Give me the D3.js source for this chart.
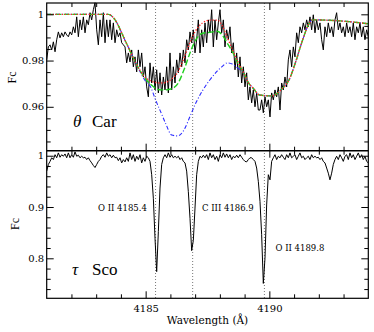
<!DOCTYPE html>
<html>
<head>
<meta charset="utf-8">
<script src="https://cdn.jsdelivr.net/npm/d3@7"></script>
<style>
  body { margin: 0; background: #fff; }
  svg text { font-family: "DejaVu Serif", serif; fill: #000; }
</style>
</head>
<body>
<div id="chart"></div>
<script>
// ---- data ----

// observed spectra, sampled on a regular wavelength grid
var obsStart = 4181;
var obsStep = 13 / 193;

// theta Car (top panel)
var obsCar = [
  0.9803, 0.9859, 0.9868, 0.9846, 0.9881, 0.9838, 0.989, 0.9924, 0.9898, 0.992,
  0.9903, 0.9924, 0.9911, 0.9903, 0.9924, 0.9911, 0.9946, 0.992, 0.9989, 0.9903,
  0.9976, 0.9933, 0.9989, 0.992, 0.9976, 0.9955, 1.0007, 0.9976, 1.002, 1.005,
  0.9933, 0.9868, 0.9976, 0.9903, 1.0007, 0.9877, 0.9976, 0.9903, 0.9976, 0.989,
  0.9963, 0.9877, 0.9933, 0.9903, 0.992, 0.9877, 0.9868, 0.9859, 0.979, 0.9833,
  0.9794, 0.9846, 0.9773, 0.9816, 0.9751, 0.9846, 0.9773, 0.9833, 0.9729, 0.9773,
  0.9686, 0.9643,
  0.979, 0.9703, 0.9773, 0.9673, 0.976, 0.966, 0.9747, 0.9651, 0.9729, 0.9673,
  0.9773, 0.966, 0.9833, 0.9673, 0.9773, 0.9703, 0.9803, 0.9747, 0.9833, 0.9773,
  0.9846, 0.979, 0.989, 0.9846, 0.9924, 0.9877, 0.9933, 0.9833, 0.989, 0.9976,
  0.9833, 0.9933, 0.9859, 0.9963, 0.9877, 0.9976, 0.992, 1.002, 0.9859, 0.9976,
  0.989, 0.9963, 1.002, 0.992, 0.9976, 0.9859, 0.9933, 0.989, 0.9946, 0.9833,
  0.9877, 0.976, 0.9833, 0.9729, 0.9816, 0.9703, 0.9773, 0.9686, 0.9747, 0.963,
  0.9686, 0.9617, 0.9673, 0.96, 0.966, 0.9586,
  0.9586, 0.963, 0.9574, 0.9643, 0.96, 0.963, 0.9556, 0.966, 0.963, 0.9673,
  0.9643, 0.9686, 0.9586, 0.9703, 0.9673, 0.9729, 0.9686, 0.9803, 0.9846, 0.9773,
  0.9859, 0.9816, 0.992, 0.9877, 0.9946, 0.992, 0.9963, 0.9933, 0.9976, 0.9946,
  0.9989, 0.9933, 0.9998, 0.992, 0.9976, 0.9933, 0.9963, 0.989, 0.9846, 0.9946,
  0.9903, 0.9963, 0.992, 0.9946, 0.9903, 0.9976, 1.0007, 0.9933, 0.9963, 0.992,
  0.9946, 0.9903, 0.9963, 0.992, 0.9946, 0.9903, 0.9963, 0.989, 0.9946, 0.992,
  0.9963, 0.9903, 0.9946, 0.989, 0.9933, 0.9903
];

// tau Sco (bottom panel)
var obsSco = [
  0.970, 0.983, 0.989, 0.996, 0.9925, 1.002, 0.996, 1.0055, 0.997, 1.002,
  0.999, 1.0035, 0.996, 1.0055, 0.996, 1.002, 0.997, 1.0075, 0.999, 1.001,
  0.996, 0.999, 0.996, 0.997, 0.9925, 0.996, 0.9905, 0.986, 0.981, 0.977,
  0.983, 0.989, 0.9925, 0.999, 1.002, 0.997, 1.0055, 0.999, 1.002, 0.996,
  1.001, 0.996, 0.997, 0.9905, 0.996, 0.986, 0.9925, 0.988, 0.996, 0.989,
  1.0055, 0.9925, 1.002, 0.989, 0.999, 0.9925, 1.002, 0.986, 0.996, 0.989,
  0.999, 0.996, 0.989, 0.963, 0.917, 0.839, 0.774, 0.852, 0.937, 0.983,
  0.996, 1.002, 0.996, 1.0055, 0.997, 1.002, 0.996, 0.999, 0.996, 0.999,
  0.9925, 0.996, 0.989, 0.986, 0.970, 0.930, 0.878, 0.815, 0.835, 0.898,
  0.963, 0.989, 0.999, 0.996, 1.001,
  0.996, 1.002, 0.9925, 1.0055, 0.996, 1.002, 0.9925, 0.999, 0.989, 1.002,
  0.996, 1.0055, 0.997, 1.0035, 0.996, 1.002, 0.9925, 0.999, 0.996, 1.001,
  0.996, 1.002, 0.997, 0.9925, 0.989, 0.988, 0.9925, 0.996, 0.996, 0.9925,
  0.989, 0.976, 0.950, 0.911, 0.846, 0.751, 0.800, 0.904, 0.963, 0.953,
  0.989,
  0.996, 1.002, 0.9925, 0.999, 0.996, 1.002, 0.997, 0.9925, 1.002, 0.996,
  1.0055, 0.996, 0.999, 1.002, 0.9925, 0.999, 1.0055, 0.996, 0.999, 0.9925,
  0.996, 0.999, 0.9925, 1.002, 0.996, 0.999, 0.996, 0.997, 0.9925, 0.996,
  0.989, 0.986, 0.976, 0.966, 0.953, 0.966, 0.983, 0.9925, 0.999, 0.9925,
  1.002, 0.996, 0.989, 0.999, 1.002, 0.9925, 1.0055, 0.996, 1.002, 0.9925,
  0.999, 1.0055, 0.996, 1.002, 0.9925, 0.999, 0.989, 0.986
];

// model profiles for theta Car
var modelWave = [
  4181.0, 4183.5, 4183.7, 4184.2, 4184.6, 4185.0, 4185.2, 4185.4, 4185.6, 4185.8,
  4186.05, 4186.3, 4186.55, 4186.8, 4187.0, 4187.3, 4187.6, 4187.9, 4188.1, 4188.3,
  4188.5, 4188.75, 4188.95, 4189.15, 4189.35, 4189.6, 4190.1, 4190.5, 4190.8, 4191.05,
  4191.35, 4191.6, 4191.75, 4192.8, 4194.0
];
var modelRed = [
  1.0, 1.0, 0.9985, 0.988, 0.979, 0.9725, 0.9712, 0.9705, 0.9703, 0.9705,
  0.972, 0.975, 0.981, 0.988, 0.9925, 0.9963, 0.9975, 0.9975, 0.995, 0.990,
  0.985, 0.979, 0.975, 0.9705, 0.968, 0.9651, 0.9647, 0.9677, 0.9717, 0.979,
  0.989, 0.9959, 0.9976, 0.9972, 0.9959
];
var modelGreen = [
  1.0, 1.0, 0.9985, 0.988, 0.979, 0.972, 0.9697, 0.968, 0.9673, 0.9673,
  0.9678, 0.970, 0.976, 0.9835, 0.9885, 0.9918, 0.9922, 0.9927, 0.991, 0.9875,
  0.984, 0.9785, 0.975, 0.9705, 0.968, 0.9651, 0.9647, 0.9677, 0.9717, 0.979,
  0.989, 0.9959, 0.9976, 0.9972, 0.9959
];
var modelBlue = [
  1.0, 1.0, 0.9985, 0.988, 0.979, 0.971, 0.9686, 0.963, 0.958, 0.953,
  0.9478, 0.9474, 0.950, 0.956, 0.961, 0.967, 0.9717, 0.9755, 0.9775, 0.979,
  0.9785, 0.9765, 0.975, 0.9705, 0.968, 0.9651, 0.9647, 0.9677, 0.9717, 0.979,
  0.989, 0.9959, 0.9976, 0.9972, 0.9959
];

// line identifications
var lineWaves = [4185.4, 4186.9, 4189.8];
var lineLabels = ["O II 4185.4", "C III 4186.9", "O II 4189.8"];

// axis ticks
var xMajor = [4185, 4190];
var xMinor = [4182, 4183, 4184, 4186, 4187, 4188, 4189, 4191, 4192, 4193];
var topMajor = [0.96, 0.98, 1];
var topMinor = [0.945, 0.95, 0.955, 0.965, 0.97, 0.975, 0.985, 0.99, 0.995];
var botMajor = [0.8, 0.9, 1];
var botMinor = [0.74, 0.76, 0.78, 0.82, 0.84, 0.86, 0.88, 0.92, 0.94, 0.96, 0.98];

// ---- layout ----
var svgWidth = 374;
var svgHeight = 332;
var plotLeft = 46.7, plotRight = 368.3;
var plotTop = 3, plotMid = 150.7, plotBottom = 298.3;

var svg = d3.select("#chart")
  .append("svg")
  .attr("width", svgWidth)
  .attr("height", svgHeight);

var x = d3.scaleLinear().domain([4181, 4194]).range([plotLeft, plotRight]);
var yTop = d3.scaleLinear().domain([0.941, 1.0049]).range([plotMid, plotTop]);
var yBot = d3.scaleLinear().domain([0.722, 1.0098]).range([plotBottom, plotMid]);

// clip paths for the two panels
var defs = svg.append("defs");
defs.append("clipPath").attr("id", "clipTop")
  .append("rect").attr("x", plotLeft).attr("y", plotTop - 2)
  .attr("width", plotRight - plotLeft).attr("height", plotMid - plotTop + 2);
defs.append("clipPath").attr("id", "clipBot")
  .append("rect").attr("x", plotLeft).attr("y", plotMid)
  .attr("width", plotRight - plotLeft).attr("height", plotBottom - plotMid);

// vertical dotted markers at the line positions
svg.append("g").selectAll("line")
  .data(lineWaves)
  .enter()
  .append("line")
  .attr("x1", d => x(d)).attr("x2", d => x(d))
  .attr("y1", plotTop).attr("y2", plotBottom)
  .attr("stroke", "#777")
  .attr("stroke-width", 1)
  .attr("stroke-dasharray", "1,2");

// top panel curves
var obsLineTop = d3.line()
  .x((d, i) => x(obsStart + i * obsStep))
  .y(d => yTop(d));

var modelLine = d3.line()
  .x(d => x(d[0]))
  .y(d => yTop(d[1]))
  .curve(d3.curveMonotoneX);

var topG = svg.append("g").attr("clip-path", "url(#clipTop)");

topG.append("path")
  .attr("d", obsLineTop(obsCar))
  .attr("fill", "none")
  .attr("stroke", "#000")
  .attr("stroke-width", 1);

var models = [
  { vals: modelBlue, color: "#2a2aff", dash: "4,2,1,2", w: 1.1 },
  { vals: modelGreen, color: "#1fd01f", dash: "6,2.5", w: 1.4 },
  { vals: modelRed, color: "#ff2a2a", dash: "1.3,1.7", w: 1.4 }
];

models.forEach(function(m) {
  topG.append("path")
    .attr("d", modelLine(modelWave.map((w, i) => [w, m.vals[i]])))
    .attr("fill", "none")
    .attr("stroke", m.color)
    .attr("stroke-width", m.w)
    .attr("stroke-dasharray", m.dash);
});

// bottom panel spectrum
var obsLineBot = d3.line()
  .x((d, i) => x(obsStart + i * obsStep))
  .y(d => yBot(d));

svg.append("g").attr("clip-path", "url(#clipBot)")
  .append("path")
  .attr("d", obsLineBot(obsSco))
  .attr("fill", "none")
  .attr("stroke", "#000")
  .attr("stroke-width", 1);

// ---- ticks (inward, on all sides) ----
function ticks(axis, at, values, size, fmt) {
  var g = svg.append("g")
    .attr("transform", at)
    .call(axis.tickValues(values).tickSizeInner(size).tickSizeOuter(0)
      .tickPadding(fmt ? 3 : 0).tickFormat(fmt || ""));
  g.select(".domain").remove();
  g.attr("font-family", "DejaVu Serif").attr("font-size", 10);
  return g;
}

var yFmt = d3.format("~g");

// x ticks: bottom of each panel and top of each panel
[plotMid, plotBottom].forEach(function(yy) {
  ticks(d3.axisBottom(x), `translate(0,${yy})`, xMinor, -4);
});
[plotTop, plotMid].forEach(function(yy) {
  ticks(d3.axisTop(x), `translate(0,${yy})`, xMinor, -4);
});
ticks(d3.axisBottom(x), `translate(0,${plotMid})`, xMajor, -7);
ticks(d3.axisTop(x), `translate(0,${plotTop})`, xMajor, -7);
ticks(d3.axisTop(x), `translate(0,${plotMid})`, xMajor, -7);
var xLab = ticks(d3.axisBottom(x), `translate(0,${plotBottom})`, xMajor, -7, d3.format("d"));
xLab.selectAll("text").attr("y", 6.3);

// y ticks
ticks(d3.axisLeft(yTop), `translate(${plotLeft},0)`, topMinor, -4);
ticks(d3.axisRight(yTop), `translate(${plotRight},0)`, topMinor, -4);
ticks(d3.axisRight(yTop), `translate(${plotRight},0)`, topMajor, -7);
ticks(d3.axisLeft(yTop), `translate(${plotLeft},0)`, topMajor, -7, yFmt)
  .selectAll("text").attr("x", -2.5);

ticks(d3.axisLeft(yBot), `translate(${plotLeft},0)`, botMinor, -4);
ticks(d3.axisRight(yBot), `translate(${plotRight},0)`, botMinor, -4);
ticks(d3.axisRight(yBot), `translate(${plotRight},0)`, botMajor, -7);
ticks(d3.axisLeft(yBot), `translate(${plotLeft},0)`, botMajor, -7, yFmt)
  .selectAll("text").attr("x", -2.5);

// frame and panel divider
svg.append("rect")
  .attr("x", plotLeft).attr("y", plotTop)
  .attr("width", plotRight - plotLeft).attr("height", plotBottom - plotTop)
  .attr("fill", "none")
  .attr("stroke", "#000")
  .attr("stroke-width", 1.2);

svg.append("line")
  .attr("x1", plotLeft).attr("x2", plotRight)
  .attr("y1", plotMid).attr("y2", plotMid)
  .attr("stroke", "#000")
  .attr("stroke-width", 1.4);

// ---- labels ----
svg.append("text")
  .attr("transform", `translate(16,77.5) rotate(-90)`)
  .attr("text-anchor", "middle")
  .style("font-family", "Liberation Serif")
  .style("font-size", "12px")
  .text("Fc");

svg.append("text")
  .attr("transform", `translate(19,224) rotate(-90)`)
  .attr("text-anchor", "middle")
  .style("font-family", "Liberation Serif")
  .style("font-size", "12px")
  .text("Fc");

svg.append("text")
  .attr("x", (plotLeft + plotRight) / 2)
  .attr("y", 324)
  .attr("text-anchor", "middle")
  .style("font-size", "10.5px")
  .text("Wavelength (Å)");

// star names
svg.append("text")
  .attr("x", 73).attr("y", 127)
  .style("font-family", "Liberation Serif")
  .style("font-size", "17px")
  .style("font-style", "italic")
  .text("θ");
svg.append("text")
  .attr("x", 92).attr("y", 127)
  .style("font-family", "Liberation Serif")
  .style("font-size", "17px")
  .text("Car");

svg.append("text")
  .attr("x", 72).attr("y", 275)
  .style("font-family", "Liberation Serif")
  .style("font-size", "17px")
  .style("font-style", "italic")
  .text("τ");
svg.append("text")
  .attr("x", 92).attr("y", 275)
  .style("font-family", "Liberation Serif")
  .style("font-size", "17px")
  .text("Sco");

// line identification labels
var labelPos = [[98, 211], [202, 210.5], [275.5, 251]];
svg.append("g").selectAll("text")
  .data(lineLabels)
  .enter()
  .append("text")
  .attr("x", (d, i) => labelPos[i][0])
  .attr("y", (d, i) => labelPos[i][1])
  .style("font-size", "8.5px")
  .text(d => d);
</script>
</body>
</html>
